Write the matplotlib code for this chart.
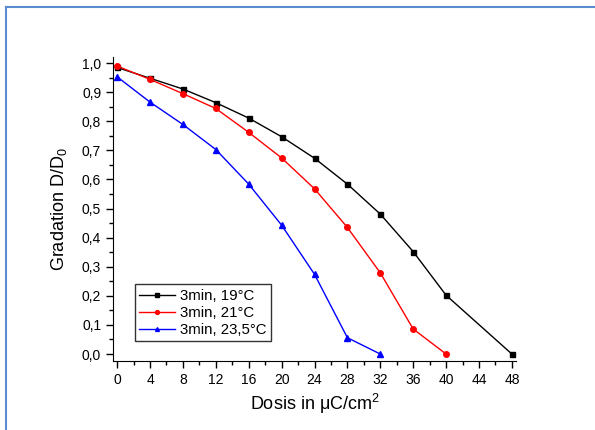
import matplotlib
matplotlib.use("Agg")
import matplotlib.pyplot as plt
from matplotlib.ticker import MultipleLocator, FuncFormatter
from matplotlib.lines import Line2D

plt.rcParams['font.family'] = ['Liberation Sans', 'DejaVu Sans']
plt.rcParams['mathtext.fontset'] = 'custom'
plt.rcParams['mathtext.rm'] = 'Liberation Sans'
plt.rcParams['mathtext.default'] = 'regular'

# data
dose_19 = [0, 4, 8, 12, 16, 20, 24, 28, 32, 36, 40, 48]
grad_19 = [0.985, 0.948, 0.911, 0.864, 0.811, 0.747, 0.673, 0.584, 0.481, 0.352, 0.202, 0.0]

dose_21 = [0, 4, 8, 12, 16, 20, 24, 28, 32, 36, 40]
grad_21 = [0.99, 0.944, 0.895, 0.844, 0.762, 0.674, 0.568, 0.435, 0.279, 0.086, 0.0]

dose_235 = [0, 4, 8, 12, 16, 20, 24, 28, 32]
grad_235 = [0.953, 0.866, 0.789, 0.703, 0.584, 0.443, 0.274, 0.056, 0.0]

labels = ['3min, 19°C', '3min, 21°C', '3min, 23,5°C']

fig = plt.figure(figsize=(5.95, 4.3), dpi=100)
ax = fig.add_axes([113/595, 1 - 361/430, (516 - 113)/595, (361 - 57)/430])

ax.plot(dose_19, grad_19, color='black', marker='s', markersize=3.6, linewidth=1, label=labels[0])
ax.plot(dose_21, grad_21, color='red', marker='o', markersize=4, linewidth=1, label=labels[1])
ax.plot(dose_235, grad_235, color='blue', marker='^', markersize=4, linewidth=1, label=labels[2])

ax.set_xlim(-0.5, 48.5)
ax.set_ylim(-0.024, 1.021)
ax.xaxis.set_major_locator(MultipleLocator(4))
ax.xaxis.set_minor_locator(MultipleLocator(2))
ax.yaxis.set_major_locator(MultipleLocator(0.1))
ax.yaxis.set_minor_locator(MultipleLocator(0.05))
ax.yaxis.set_major_formatter(FuncFormatter(lambda v, _: f'{v:.1f}'.replace('.', ',').replace('-0,0', '0,0')))

ax.spines['top'].set_visible(False)
ax.spines['right'].set_visible(False)
ax.tick_params(which='both', direction='out', width=1, labelsize=10)
ax.tick_params(which='major', length=5)
ax.tick_params(which='minor', length=3)

ax.set_xlabel('Dosis in μC/cm$^2$', fontsize=13, labelpad=4)
ax.set_ylabel('Gradation D/D$_0$', fontsize=13, labelpad=9)

leg = ax.legend(loc='lower left', bbox_to_anchor=(0.035, 0.04), fontsize=10.8, frameon=True,
                fancybox=False, edgecolor='black', handlelength=2.4, handletextpad=0.3,
                borderpad=0.3, labelspacing=0.2, markerscale=0.7)
leg.get_frame().set_linewidth(1)

# blue frame around the picture (top and left edges visible)
fig.add_artist(Line2D([6/595, 6/595], [0, 1 - 7/430], transform=fig.transFigure, color='#5b8bcf', linewidth=1.5))
fig.add_artist(Line2D([6/595, 1], [1 - 7/430, 1 - 7/430], transform=fig.transFigure, color='#5b8bcf', linewidth=1.5))

fig.savefig('out.png', dpi=100)
